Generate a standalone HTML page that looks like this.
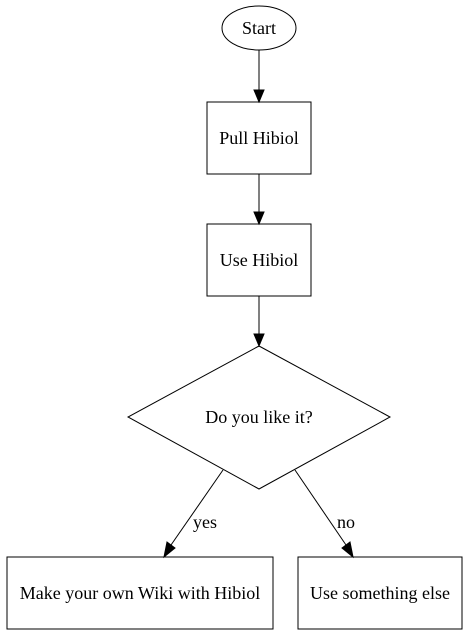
<!DOCTYPE html>
<html><head><meta charset="utf-8"><style>
html,body{margin:0;padding:0;background:#fff;}
svg{display:block;}
text{font-family:"Liberation Serif",serif;font-size:18px;fill:#000;}
</style></head><body>
<svg width="467" height="635" viewBox="0 0 467 635" xmlns="http://www.w3.org/2000/svg">
<g fill="none" stroke="#000" stroke-width="1">
<ellipse cx="259" cy="28" rx="37" ry="22"/>
<rect x="207" y="102" width="104" height="72"/>
<rect x="207" y="224" width="104" height="72"/>
<polygon points="259,346 390,417 259,489 128,417"/>
<rect x="7" y="557" width="266" height="72"/>
<rect x="298" y="557" width="164" height="72"/>
<line x1="259" y1="50" x2="259" y2="90"/>
<line x1="259" y1="174" x2="259" y2="212"/>
<line x1="259" y1="296" x2="259" y2="334"/>
<line x1="223" y1="470" x2="171" y2="545"/>
<line x1="295" y1="470" x2="346" y2="545"/>
</g>
<g fill="#000" stroke="#000">
<polygon points="254,90 264,90 259,102"/>
<polygon points="254,212 264,212 259,224"/>
<polygon points="254,334 264,334 259,346"/>
<polygon points="167,542 175,548 164,557"/>
<polygon points="342,548 350,542 353,557"/>
</g>
<g text-anchor="middle">
<text x="259" y="34">Start</text>
<text x="259" y="144">Pull Hibiol</text>
<text x="259" y="266">Use Hibiol</text>
<text x="259" y="423">Do you like it?</text>
<text x="140" y="599">Make your own Wiki with Hibiol</text>
<text x="380" y="599">Use something else</text>
<text x="205" y="528">yes</text>
<text x="346" y="528">no</text>
</g>
</svg>
</body></html>
